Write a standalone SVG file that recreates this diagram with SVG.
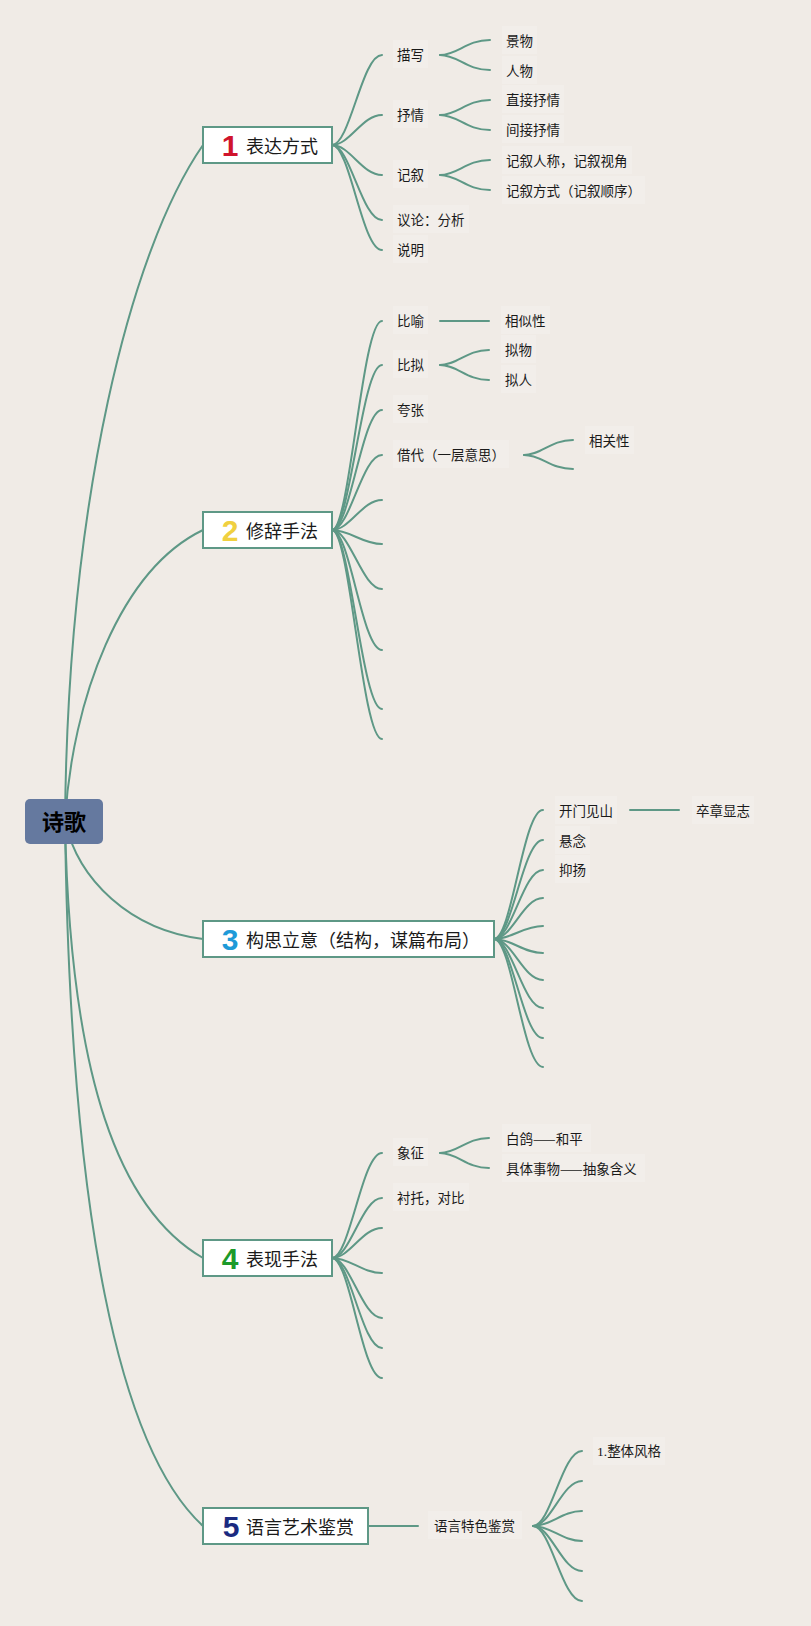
<svg xmlns="http://www.w3.org/2000/svg" width="811" height="1626" viewBox="0 0 811 1626">
<style>
.bg{fill:#f0ebe6}
.conn{fill:none;stroke:#5e9886;stroke-width:2;stroke-linecap:round}
.box{fill:#ffffff;stroke:#5e9886;stroke-width:2}
.lb{fill:#f2eeea}
.t{font-family:"Noto Sans CJK SC","Noto Sans",sans-serif;font-size:13.5px;fill:#1a1a1a;dominant-baseline:central}
.nt{font-family:"Noto Sans CJK SC","Noto Sans",sans-serif;font-size:18px;fill:#1a1a1a;dominant-baseline:central}
.num{font-family:"Liberation Sans",Arial,sans-serif;font-weight:bold;font-size:30px;text-anchor:middle}
.root{font-family:"Noto Sans CJK SC",sans-serif;font-weight:bold;font-size:22px;fill:#000;text-anchor:middle;dominant-baseline:central}
</style>
<rect class="bg" x="0" y="0" width="811" height="1626"/>

<g id="connectors">
  <path class="conn" d="M65,821 C68,500 130,250 203,145"/>
  <path class="conn" d="M65,821 C72,700 120,570 203,530"/>
  <path class="conn" d="M65,821 C78,880 130,930 203,939"/>
  <path class="conn" d="M65,821 C70,1080 120,1210 203,1258"/>
  <path class="conn" d="M65,821 C70,1220 120,1450 203,1526"/>
  <path class="conn" d="M332,145 C350,145 362,55 382,55"/>
  <path class="conn" d="M332,145 C350,145 362,115 382,115"/>
  <path class="conn" d="M332,145 C350,145 362,175 382,175"/>
  <path class="conn" d="M332,145 C350,145 362,220 382,220"/>
  <path class="conn" d="M332,145 C350,145 362,250 382,250"/>
  <path class="conn" d="M440,55 C458,55 466,40 490,40"/>
  <path class="conn" d="M440,55 C458,55 466,70 490,70"/>
  <path class="conn" d="M440,115 C458,115 466,100 490,100"/>
  <path class="conn" d="M440,115 C458,115 466,130 490,130"/>
  <path class="conn" d="M440,175 C458,175 466,160 490,160"/>
  <path class="conn" d="M440,175 C458,175 466,190 490,190"/>
  <path class="conn" d="M332,530 C350,530 362,321 382,321"/>
  <path class="conn" d="M332,530 C350,530 362,365 382,365"/>
  <path class="conn" d="M332,530 C350,530 362,410 382,410"/>
  <path class="conn" d="M332,530 C350,530 362,455 382,455"/>
  <path class="conn" d="M332,530 C350,530 362,500 382,500"/>
  <path class="conn" d="M332,530 C350,530 362,544 382,544"/>
  <path class="conn" d="M332,530 C350,530 362,589 382,589"/>
  <path class="conn" d="M332,530 C350,530 362,650 382,650"/>
  <path class="conn" d="M332,530 C350,530 362,709 382,709"/>
  <path class="conn" d="M332,530 C350,530 362,739 382,739"/>
  <path class="conn" d="M440,321 H489"/>
  <path class="conn" d="M440,365 C458,365 466,350 489,350"/>
  <path class="conn" d="M440,365 C458,365 466,380 489,380"/>
  <path class="conn" d="M524,455 C542,455 550,440 573,440"/>
  <path class="conn" d="M524,455 C542,455 550,469 573,469"/>
  <path class="conn" d="M494,939 C512,939 523,810 543,810"/>
  <path class="conn" d="M494,939 C512,939 523,840 543,840"/>
  <path class="conn" d="M494,939 C512,939 523,870 543,870"/>
  <path class="conn" d="M494,939 C512,939 523,898 543,898"/>
  <path class="conn" d="M494,939 C512,939 523,926 543,926"/>
  <path class="conn" d="M494,939 C512,939 523,953 543,953"/>
  <path class="conn" d="M494,939 C512,939 523,980 543,980"/>
  <path class="conn" d="M494,939 C512,939 523,1008 543,1008"/>
  <path class="conn" d="M494,939 C512,939 523,1038 543,1038"/>
  <path class="conn" d="M494,939 C512,939 523,1067 543,1067"/>
  <path class="conn" d="M630,810 H679"/>
  <path class="conn" d="M332,1258 C350,1258 362,1153 382,1153"/>
  <path class="conn" d="M332,1258 C350,1258 362,1198 382,1198"/>
  <path class="conn" d="M332,1258 C350,1258 362,1228 382,1228"/>
  <path class="conn" d="M332,1258 C350,1258 362,1273 382,1273"/>
  <path class="conn" d="M332,1258 C350,1258 362,1318 382,1318"/>
  <path class="conn" d="M332,1258 C350,1258 362,1348 382,1348"/>
  <path class="conn" d="M332,1258 C350,1258 362,1378 382,1378"/>
  <path class="conn" d="M440,1153 C458,1153 466,1138 489,1138"/>
  <path class="conn" d="M440,1153 C458,1153 466,1168 489,1168"/>
  <path class="conn" d="M368,1526 H418"/>
  <path class="conn" d="M533,1526 C551,1526 562,1451 582,1451"/>
  <path class="conn" d="M533,1526 C551,1526 562,1481 582,1481"/>
  <path class="conn" d="M533,1526 C551,1526 562,1511 582,1511"/>
  <path class="conn" d="M533,1526 C551,1526 562,1541 582,1541"/>
  <path class="conn" d="M533,1526 C551,1526 562,1571 582,1571"/>
  <path class="conn" d="M533,1526 C551,1526 562,1601 582,1601"/>
</g>

<g id="root">
  <rect x="25" y="799" width="78" height="45" rx="5" fill="#65799f"/>
  <text class="root" x="64" y="820">诗歌</text>
</g>

<g id="topic1">
  <rect class="box" x="203" y="127" width="129" height="36"/>
  <text class="num" x="230" y="156" fill="#d0142c">1</text>
  <text class="nt" x="246" y="145">表达方式</text>
</g>
<g id="topic2">
  <rect class="box" x="203" y="512" width="129" height="36"/>
  <text class="num" x="230" y="541" fill="#f0d040">2</text>
  <text class="nt" x="246" y="530">修辞手法</text>
</g>
<g id="topic3">
  <rect class="box" x="203" y="921" width="291" height="36"/>
  <text class="num" x="230" y="950" fill="#1e9ad8">3</text>
  <text class="nt" x="246" y="939">构思立意（结构，谋篇布局）</text>
</g>
<g id="topic4">
  <rect class="box" x="203" y="1240" width="129" height="36"/>
  <text class="num" x="230" y="1269" fill="#1c9a2a">4</text>
  <text class="nt" x="246" y="1258">表现手法</text>
</g>
<g id="topic5">
  <rect class="box" x="203" y="1508" width="165" height="36"/>
  <text class="num" x="231" y="1537" fill="#1a2a80">5</text>
  <text class="nt" x="246" y="1526">语言艺术鉴赏</text>
</g>

<g id="t1-children">
  <g id="n-miaoxie"><rect class="lb" x="393" y="40" width="35" height="28"/><text class="t" x="397" y="54">描写</text></g>
  <g id="n-jingwu"><rect class="lb" x="502" y="26" width="35" height="28"/><text class="t" x="506" y="40">景物</text></g>
  <g id="n-renwu"><rect class="lb" x="502" y="56" width="35" height="28"/><text class="t" x="506" y="70">人物</text></g>
  <g id="n-shuqing"><rect class="lb" x="393" y="100" width="35" height="28"/><text class="t" x="397" y="114">抒情</text></g>
  <g id="n-zhijie"><rect class="lb" x="502" y="85" width="62" height="28"/><text class="t" x="506" y="99">直接抒情</text></g>
  <g id="n-jianjie"><rect class="lb" x="502" y="115" width="62" height="28"/><text class="t" x="506" y="129">间接抒情</text></g>
  <g id="n-jixu"><rect class="lb" x="393" y="160" width="35" height="28"/><text class="t" x="397" y="174">记叙</text></g>
  <g id="n-jixurencheng"><rect class="lb" x="502" y="146" width="130" height="28"/><text class="t" x="506" y="160">记叙人称，记叙视角</text></g>
  <g id="n-jixufangshi"><rect class="lb" x="502" y="176" width="143" height="28"/><text class="t" x="506" y="190">记叙方式（记叙顺序）</text></g>
  <g id="n-yilun"><rect class="lb" x="393" y="205" width="76" height="28"/><text class="t" x="397" y="219">议论：分析</text></g>
  <g id="n-shuoming"><rect class="lb" x="393" y="235" width="35" height="28"/><text class="t" x="397" y="249">说明</text></g>
</g>

<g id="t2-children">
  <g id="n-biyu"><rect class="lb" x="393" y="306" width="35" height="28"/><text class="t" x="397" y="320">比喻</text></g>
  <g id="n-xiangsi"><rect class="lb" x="501" y="306" width="49" height="28"/><text class="t" x="505" y="320">相似性</text></g>
  <g id="n-bini"><rect class="lb" x="393" y="350" width="35" height="28"/><text class="t" x="397" y="364">比拟</text></g>
  <g id="n-niwu"><rect class="lb" x="501" y="335" width="35" height="28"/><text class="t" x="505" y="349">拟物</text></g>
  <g id="n-niren"><rect class="lb" x="501" y="365" width="35" height="28"/><text class="t" x="505" y="379">拟人</text></g>
  <g id="n-kuazhang"><rect class="lb" x="393" y="395" width="35" height="28"/><text class="t" x="397" y="409">夸张</text></g>
  <g id="n-jiedai"><rect class="lb" x="393" y="440" width="116" height="28"/><text class="t" x="397" y="454">借代（一层意思）</text></g>
  <g id="n-xiangguan"><rect class="lb" x="585" y="426" width="49" height="28"/><text class="t" x="589" y="440">相关性</text></g>
</g>

<g id="t3-children">
  <g id="n-kaimen"><rect class="lb" x="555" y="796" width="62" height="28"/><text class="t" x="559" y="810">开门见山</text></g>
  <g id="n-zuzhang"><rect class="lb" x="692" y="796" width="62" height="28"/><text class="t" x="696" y="810">卒章显志</text></g>
  <g id="n-xuannian"><rect class="lb" x="555" y="826" width="35" height="28"/><text class="t" x="559" y="840">悬念</text></g>
  <g id="n-yiyang"><rect class="lb" x="555" y="855" width="35" height="28"/><text class="t" x="559" y="869">抑扬</text></g>
</g>

<g id="t4-children">
  <g id="n-xiangzheng"><rect class="lb" x="393" y="1138" width="35" height="28"/><text class="t" x="397" y="1152">象征</text></g>
  <g id="n-baige"><rect class="lb" x="502" y="1124" width="89" height="28"/><text class="t" x="506" y="1138">白鸽——和平</text></g>
  <g id="n-juti"><rect class="lb" x="502" y="1154" width="143" height="28"/><text class="t" x="506" y="1168">具体事物——抽象含义</text></g>
  <g id="n-chentuo"><rect class="lb" x="393" y="1183" width="76" height="28"/><text class="t" x="397" y="1197">衬托，对比</text></g>
</g>

<g id="t5-children">
  <g id="n-yuyantese"><rect class="lb" x="428" y="1511" width="94" height="28"/><text class="t" x="434" y="1525">语言特色鉴赏</text></g>
  <g id="n-zhengti"><rect class="lb" x="593" y="1437" width="72" height="28"/><text class="t" x="597" y="1451" style="font-family:'Liberation Serif','Noto Sans CJK SC',serif">1.整体风格</text></g>
</g>
</svg>
